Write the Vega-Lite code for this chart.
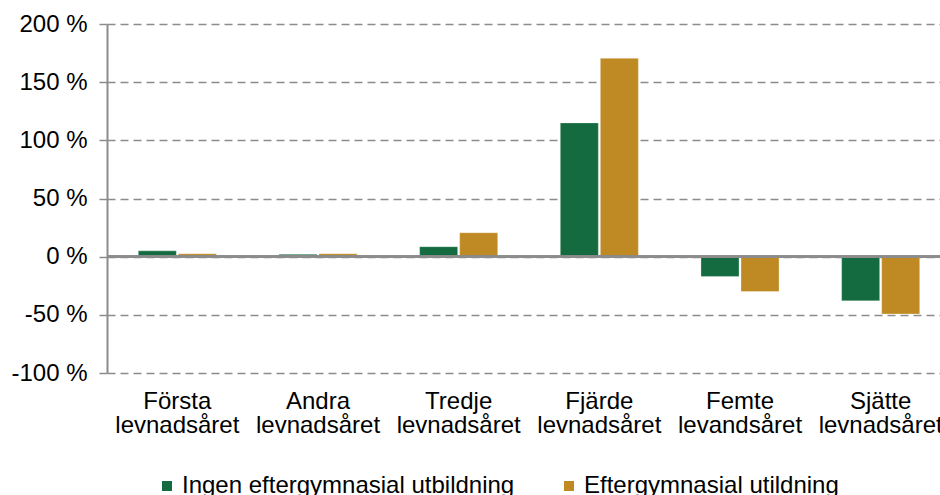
{
  "$schema": "https://vega.github.io/schema/vega-lite/v6.json",
  "autosize": {"type": "none"},
  "padding": {"left": 107, "top": 24, "right": 0, "bottom": 122},
  "width": 844,
  "height": 349,
  "background": "white",
  "config": {
    "font": "Liberation Sans",
    "view": {"stroke": null},
    "axis": {"labelFont": "Liberation Sans", "labelFontSize": 24, "labelColor": "#000000", "titleFontSize": 24},
    "legend": {"labelFont": "Liberation Sans", "labelFontSize": 24, "labelColor": "#000000", "labelLimit": 0}
  },
  "data": {
    "values": [
      {"year": "Första levnadsåret", "series": "Ingen eftergymnasial utbildning", "value": 5},
      {"year": "Första levnadsåret", "series": "Eftergymnasial utildning", "value": 2.5},
      {"year": "Andra levnadsåret", "series": "Ingen eftergymnasial utbildning", "value": 2},
      {"year": "Andra levnadsåret", "series": "Eftergymnasial utildning", "value": 2.5},
      {"year": "Tredje levnadsåret", "series": "Ingen eftergymnasial utbildning", "value": 8.6},
      {"year": "Tredje levnadsåret", "series": "Eftergymnasial utildning", "value": 20.6},
      {"year": "Fjärde levnadsåret", "series": "Ingen eftergymnasial utbildning", "value": 115},
      {"year": "Fjärde levnadsåret", "series": "Eftergymnasial utildning", "value": 170.5},
      {"year": "Femte levandsåret", "series": "Ingen eftergymnasial utbildning", "value": -17},
      {"year": "Femte levandsåret", "series": "Eftergymnasial utildning", "value": -30},
      {"year": "Sjätte levnadsåret", "series": "Ingen eftergymnasial utbildning", "value": -38},
      {"year": "Sjätte levnadsåret", "series": "Eftergymnasial utildning", "value": -49.3}
    ]
  },
  "layer": [
    {
      "mark": {"type": "bar", "stroke": "#ffffff", "strokeWidth": 0.5, "strokeOpacity": 0.6},
      "encoding": {
        "x": {
          "field": "year", "type": "nominal", "sort": null,
          "scale": {"paddingInner": 0.445, "paddingOuter": 0.2225},
          "axis": {
            "title": null, "domain": false, "ticks": false, "labelAngle": 0,
            "labelExpr": "split(datum.label, ' ')", "labelPadding": 16, "labelLineHeight": 24
          }
        },
        "xOffset": {
          "field": "series", "type": "nominal", "sort": null,
          "scale": {"paddingInner": 0.05}
        },
        "y": {
          "field": "value", "type": "quantitative",
          "scale": {"domain": [-100, 200], "nice": false},
          "axis": {
            "title": null, "values": [-100, -50, 0, 50, 100, 150, 200],
            "labelExpr": "datum.value + ' %'",
            "domain": true, "domainColor": "#8c8c8c", "domainWidth": 2,
            "ticks": true, "tickColor": "#8c8c8c", "tickSize": 8, "tickWidth": 1.5,
            "labelPadding": 12,
            "grid": true, "gridColor": "#8c8c8c", "gridWidth": 1.5, "gridDash": [8, 5]
          }
        },
        "color": {
          "field": "series", "type": "nominal", "sort": null,
          "scale": {"range": ["#136b3f", "#bf8a24"]},
          "legend": {
            "title": null, "orient": "none", "direction": "horizontal",
            "legendX": 48, "legendY": 450, "labelLimit": 0,
            "symbolType": "square", "symbolSize": 100, "symbolStrokeWidth": 0,
            "labelOffset": 3, "columnPadding": 42
          }
        }
      }
    },
    {
      "mark": {"type": "rule", "color": "#8c8c8c", "strokeWidth": 2},
      "encoding": {"y": {"datum": 0}}
    }
  ]
}
